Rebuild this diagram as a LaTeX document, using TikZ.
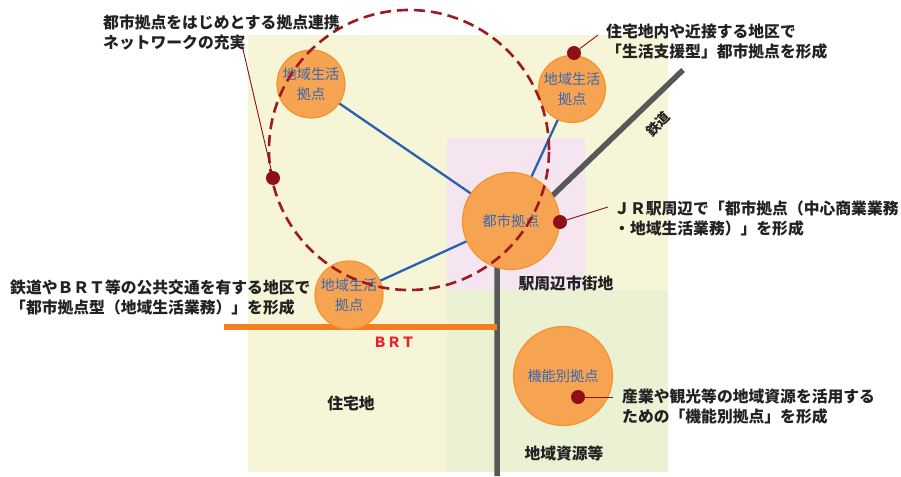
\documentclass[tikz,border=0pt]{standalone}
\usepackage{fontspec}
\newfontfamily\cjk{Noto Sans CJK JP}
\definecolor{bgyellow}{HTML}{F7F5D7}
\definecolor{bgpink}{HTML}{F4E5F1}
\definecolor{bggreen}{HTML}{EBF2D4}
\definecolor{hubfill}{HTML}{F6A451}
\definecolor{hubline}{HTML}{F4942C}
\definecolor{hubtext}{HTML}{3A68B2}
\definecolor{linkblue}{HTML}{2563B0}
\definecolor{railgray}{HTML}{58585A}
\definecolor{brtorange}{HTML}{F47F1E}
\definecolor{brtred}{HTML}{E8202E}
\definecolor{pincol}{HTML}{8E1016}
\definecolor{ringcol}{HTML}{9C1A20}
\definecolor{textdark}{HTML}{222222}
\tikzset{
  hub/.style={circle, fill=hubfill, draw=hubline, line width=1.2pt, inner sep=0pt,
    align=center, text=hubtext, font=\cjk\fontsize{14.2}{20}\selectfont},
  callout/.style={anchor=west, align=left, inner sep=0pt, text=textdark,
    font=\cjk\bfseries\fontsize{15.8}{20}\selectfont},
  arealabel/.style={inner sep=0pt, text=textdark, font=\cjk\bfseries\fontsize{15.8}{20}\selectfont},
  pinmark/.style={circle, fill=pincol, inner sep=0pt, minimum size=14pt},
  leader/.style={draw=pincol, line width=0.9pt},
  link/.style={draw=linkblue, line width=2.3pt},
  rail/.style={draw=railgray, line width=5.5pt},
  brtline/.style={draw=brtorange, line width=6pt},
  ring/.style={draw=ringcol, line width=2.6pt, dash pattern=on 11pt off 6pt}
}
\begin{document}
\begin{tikzpicture}[x=1pt,y=-1pt]
\useasboundingbox (0,0) rectangle (901,476);
% background areas
\fill[bgyellow] (248,35) rectangle (668,472);
\fill[bgpink] (447,138) rectangle (585,290);
\fill[bggreen] (447,290) rectangle (668,472);
% railway and BRT
\coordinate (railNE) at (683,70);
\coordinate (junction) at (497,249);
\coordinate (railS) at (497,476);
\draw[rail] (railNE) -- (junction) -- (railS);
\coordinate (brtW) at (224,327);
\coordinate (brtE) at (497,327);
\draw[brtline] (brtW) -- (brtE);
\node[inner sep=0pt, text=brtred, font=\cjk\bfseries\fontsize{14}{16}\selectfont] (brtlabel) at (394,342) {ＢＲＴ};
\node[inner sep=0pt, text=textdark, rotate=45, font=\cjk\bfseries\fontsize{13.5}{16}\selectfont] (raillabel) at (658,124) {鉄道};
% hubs
\node[hub, minimum size=68pt] (hubNW) at (311,84) {地域生活\\拠点};
\node[hub, minimum size=67pt] (hubNE) at (572,89) {地域生活\\拠点};
\node[hub, minimum size=97pt] (city) at (511,221) {都市拠点};
\node[hub, minimum size=68pt] (hubSW) at (349,295) {地域生活\\拠点};
\node[hub, minimum size=99pt] (func) at (563,376) {機能別拠点};
% links
\draw[link] (hubNW) -- (city);
\draw[link] (hubNE) -- (city);
\draw[link] (hubSW) -- (city);
% dashed ring
\coordinate (ringc) at (409,150);
\draw[ring] (ringc) circle[radius=140pt];
% area labels
\node[arealabel] (station) at (566,283) {駅周辺市街地};
\node[arealabel] (resid) at (351,403) {住宅地};
\node[arealabel] (resource) at (564,453) {地域資源等};
% callouts
\node[callout] (c1) at (103,33) {都市拠点をはじめとする拠点連携\\ネットワークの充実};
\node[callout] (c2) at (606,42) {住宅地内や近接する地区で\\「生活支援型」都市拠点を形成};
\node[callout] (c3) at (614,219) {ＪＲ駅周辺で「都市拠点（中心商業業務\\・地域生活業務）」を形成};
\node[callout] (c4) at (10,298) {鉄道やＢＲＴ等の公共交通を有する地区で\\「都市拠点型（地域生活業務）」を形成};
\node[callout] (c5) at (622,407) {産業や観光等の地域資源を活用する\\ための「機能別拠点」を形成};
% pins and leaders
\coordinate (l1) at (242,45);
\coordinate (l2) at (598,35);
\coordinate (l3) at (608,207);
\coordinate (l4) at (613,397);
\node[pinmark] (p1) at (273,178) {};
\node[pinmark] (p2) at (574,53) {};
\node[pinmark] (p3) at (560,222) {};
\node[pinmark] (p4) at (578,397) {};
\draw[leader] (p1) -- (l1);
\draw[leader] (p2) -- (l2);
\draw[leader] (p3) -- (l3);
\draw[leader] (p4) -- (l4);
\end{tikzpicture}
\end{document}
